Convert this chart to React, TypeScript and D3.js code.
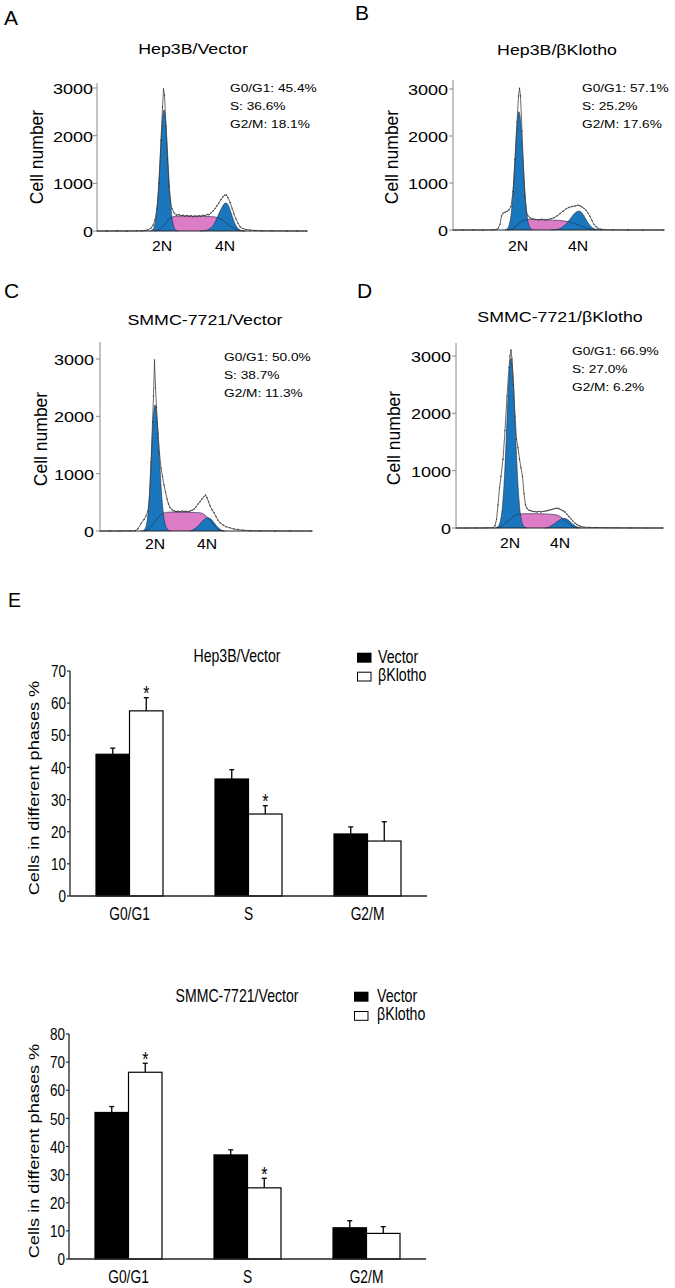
import React from "react";
import * as d3 from "d3";

const FONT = "'Liberation Sans', Arial, Helvetica, sans-serif";
type P = [number, number];

// ---------------- Histogram data: [channel, cell count] ----------------
const histA_outline: P[] = [[0,0],[10,0],[20,2],[30,0],[40,3],[45,5],[48,10],[51,25],[54,60],[56,120],[58,230],[60,480],[62,1000],[64,1900],[65.5,2600],[66.5,2980],[67.5,2850],[69,2200],[70.5,1500],[72,950],[73.5,620],[75,470],[77,380],[79.5,335],[82,345],[84,320],[86,330],[88,310],[90,325],[92,305],[94,320],[96,300],[98,315],[100,305],[102,320],[104,310],[106,330],[108,320],[110,345],[112,340],[114,380],[116,420],[118,470],[120,530],[122,590],[124,660],[126,720],[128,755],[129.5,750],[131,700],[133,600],[135,480],[137,360],[139,250],[141,160],[143,90],[146,50],[149,30],[153,20],[158,12],[165,6],[175,3],[190,1],[200,0],[210,0]];
const histA_g1: P[] = [[53,0],[55,17],[57,80],[59,280],[61,730],[63,1460],[65,2210],[67,2540],[69,2210],[71,1460],[73,730],[75,280],[77,80],[79,17],[81,0]];
const histA_s: P[] = [[58,0],[61,20],[64,60],[67,120],[70,200],[73,265],[76,300],[80,315],[90,315],[100,310],[110,305],[116,300],[120,285],[123,260],[126,220],[129,175],[132,125],[135,80],[138,45],[141,20],[144,6],[147,0]];
const histA_g2: P[] = [[103,0],[105,2],[109,12],[111,25],[113,50],[115,88],[117,145],[119,225],[121,320],[123,415],[125,500],[127,565],[129,587],[131,550],[133,450],[135,325],[137,205],[139,110],[141,53],[143,22],[145,8],[148,0]];

const histB_outline: P[] = [[0,0],[10,0],[20,1],[30,0],[40,2],[43,8],[45,30],[47,120],[48.5,300],[50,360],[52,380],[54,400],[56,430],[58,500],[60,820],[62,1500],[64,2300],[65.5,2850],[66.5,3015],[67.5,2850],[69,2100],[70.5,1300],[72,700],[73.5,380],[75,300],[77,260],[80,235],[83,225],[86,215],[89,228],[92,215],[95,225],[98,240],[101,260],[104,300],[107,350],[110,400],[113,450],[116,480],[119,500],[122,510],[125,530],[127,515],[129,490],[131,460],[133,420],[135,360],[137,290],[139,200],[141,120],[143,70],[145,35],[148,15],[152,8],[160,3],[175,1],[190,0],[211,0]];
const histB_g1: P[] = [[52,0],[54,22],[56,95],[58,310],[60,770],[62,1490],[64,2210],[66,2517],[68,2210],[70,1490],[72,770],[74,310],[76,95],[78,22],[80,0]];
const histB_s: P[] = [[55,0],[58,15],[61,50],[64,100],[67,150],[70,195],[73,220],[77,228],[85,222],[95,215],[105,205],[112,190],[116,175],[120,150],[124,120],[128,85],[132,50],[136,22],[140,5],[143,0]];
const histB_g2: P[] = [[98,0],[101,5],[105,19],[108,43],[111,85],[114,149],[117,231],[120,316],[123,380],[126,404],[129,363],[132,263],[135,155],[138,73],[141,28],[144,9],[147,2],[150,0]];

const histC_outline: P[] = [[0,0],[10,0],[20,1],[30,2],[35,5],[38,40],[41,130],[44,200],[46,260],[48,350],[49.5,600],[51,1200],[52.5,1900],[53.5,2350],[54.5,2983],[55.5,2500],[56.5,2150],[58,1700],[59.5,1350],[61,1100],[62.5,950],[64,800],[65.5,680],[67,560],[68.5,470],[70,410],[72,370],[74,350],[76,340],[78,345],[80,335],[82,350],[84,340],[86,345],[88,335],[90,350],[92,360],[94,380],[96,420],[98,470],[100,510],[102,560],[104,600],[105.5,628],[107,580],[108.5,510],[110,440],[112,370],[114,320],[116,250],[118,190],[120,145],[123,105],[126,75],[130,55],[134,35],[138,25],[143,15],[150,5],[160,2],[175,1],[190,0],[212,0]];
const histC_g1: P[] = [[41,0],[43,6],[45,36],[46,80],[47,160],[48,300],[49,505],[50,795],[51,1150],[52,1530],[53,1885],[54,2115],[55,2200],[56,2140],[57,1960],[58,1700],[59,1400],[60,1090],[61,795],[62,550],[63,360],[64,220],[65,130],[67,35],[69,8],[71,0]];
const histC_s: P[] = [[44,0],[47,20],[50,60],[53,120],[56,190],[59,250],[62,295],[65,320],[70,330],[80,330],[90,325],[100,318],[103,300],[106,260],[109,205],[112,145],[115,90],[118,40],[121,10],[124,0]];
const histC_g2: P[] = [[90,0],[93,20],[96,55],[99,105],[102,165],[105,215],[107.7,233],[110,220],[112,190],[114,145],[116,100],[118,60],[120,30],[122,10],[125,0]];

const histD_outline: P[] = [[0,0],[10,0],[20,1],[30,2],[37,5],[39,40],[40.5,150],[42,400],[43.5,700],[45,900],[47,1200],[49,1700],[51,2300],[53,2800],[54,3000],[55,3105],[56,2950],[57.5,2500],[59,1950],[60.5,1550],[62,1400],[63.5,1200],[65,1050],[66.5,900],[68,600],[69.5,400],[71,340],[73,310],[75,300],[77,290],[79,285],[81,280],[83,290],[85,280],[87,290],[89,295],[91,300],[93,310],[95,320],[97,330],[99,340],[101,345],[103,335],[105,320],[107,300],[109,280],[111,240],[113,200],[115,160],[117,120],[119,85],[121,60],[123,40],[125,25],[128,15],[133,10],[140,8],[150,6],[160,4],[175,2],[190,1],[207,0]];
const histD_g1: P[] = [[39,0],[41,12],[43,50],[45,175],[46,300],[47,490],[48,740],[49,1070],[50,1460],[51,1880],[52,2290],[53,2640],[54,2880],[55,2960],[56,2880],[57,2640],[58,2290],[59,1880],[60,1460],[61,1070],[62,740],[63,490],[64,300],[65,175],[67,50],[69,12],[71,0]];
const histD_s: P[] = [[40,0],[43,15],[46,40],[49,80],[52,125],[55,170],[58,210],[61,235],[64,245],[70,250],[80,250],[90,245],[98,235],[102,220],[105,190],[108,150],[111,105],[114,60],[117,25],[120,5],[122,0]];
const histD_g2: P[] = [[89,0],[92,10],[95,35],[98,70],[101,110],[104,145],[107,169],[110,160],[113,125],[116,80],[119,40],[122,12],[125,0]];

const histTicks = [0, 1000, 2000, 3000];
const statsA = ["G0/G1: 45.4%", "S: 36.6%", "G2/M: 18.1%"];
const statsB = ["G0/G1: 57.1%", "S: 25.2%", "G2/M: 17.6%"];
const statsC = ["G0/G1: 50.0%", "S: 38.7%", "G2/M: 11.3%"];
const statsD = ["G0/G1: 66.9%", "S: 27.0%", "G2/M: 6.2%"];

// ---------------- Bar chart data ----------------
const phases = ["G0/G1", "S", "G2/M"];
const groups = ["Vector", "βKlotho"];
const hep3bVector = [44.1, 36.4, 19.3];
const hep3bVectorSd = [1.9, 2.9, 2.2];
const hep3bKlotho = [57.6, 25.5, 17.1];
const hep3bKlothoSd = [4.1, 2.6, 6.0];
const hep3bSig = [true, true, false];
const smmcVector = [52.1, 37.0, 11.1];
const smmcVectorSd = [2.1, 1.8, 2.5];
const smmcKlotho = [66.4, 25.3, 9.1];
const smmcKlothoSd = [3.2, 3.4, 2.4];
const smmcSig = [true, true, false];

// ---------------- layout ----------------
const histPanels = [
  { letter: "A", title: "Hep3B/Vector", stats: statsA, outline: histA_outline, g1: histA_g1, s: histA_s, g2: histA_g2,
    L: { x0: 97, x1: 307, xMax: 210, y0: 231, y3000: 88, yTop: 83, titleX: 193, titleY: 54, statsX: 230, statsY: 91.5, labelX: 43, labelY: 157, tickRight: 93, nY: 251, n2: 65, n4: 128, letterX: 4, letterY: 25 } },
  { letter: "B", title: "Hep3B/βKlotho", stats: statsB, outline: histB_outline, g1: histB_g1, s: histB_s, g2: histB_g2,
    L: { x0: 453, x1: 664, xMax: 211, y0: 230, y3000: 89, yTop: 80, titleX: 557, titleY: 55, statsX: 582, statsY: 92, labelX: 398, labelY: 157, tickRight: 448, nY: 251, n2: 65, n4: 125, letterX: 355, letterY: 20 } },
  { letter: "C", title: "SMMC-7721/Vector", stats: statsC, outline: histC_outline, g1: histC_g1, s: histC_s, g2: histC_g2,
    L: { x0: 100, x1: 312, xMax: 212, y0: 531, y3000: 359, yTop: 342, titleX: 205, titleY: 325, statsX: 224, statsY: 360.5, labelX: 47, labelY: 439, tickRight: 94, nY: 549, n2: 55, n4: 107, letterX: 4, letterY: 298 } },
  { letter: "D", title: "SMMC-7721/βKlotho", stats: statsD, outline: histD_outline, g1: histD_g1, s: histD_s, g2: histD_g2,
    L: { x0: 456, x1: 663, xMax: 207, y0: 528, y3000: 356, yTop: 343, titleX: 560, titleY: 322, statsX: 572, statsY: 355, labelX: 400, labelY: 438, tickRight: 451, nY: 548, n2: 54, n4: 104, letterX: 357, letterY: 298 } },
];

const BLUE = "#1b77bd";
const PINK = "#dc7cc6";
const HSX = 1.17; // horizontal stretch of histogram text
const BSY = 1.27; // vertical stretch of bar chart text

function T({ x, y, size, sx = 1, sy = 1, rot = 0, anchor = "start", children, fill = "#000" }: any) {
  return (
    <text
      transform={`translate(${x},${y}) scale(${sx},${sy})${rot ? ` rotate(${rot})` : ""}`}
      fontSize={size}
      fontWeight="normal"
      textAnchor={anchor}
      fontFamily={FONT}
      fill={fill}
    >
      {children}
    </text>
  );
}

function Histogram({ panel }: any) {
  const { L } = panel;
  const x = d3.scaleLinear().domain([0, L.xMax]).range([L.x0, L.x1]);
  const y = d3.scaleLinear().domain([0, 3000]).range([L.y0, L.y3000]);
  const area = d3.area<P>().x((d) => x(d[0])).y0(L.y0).y1((d) => y(d[1])).curve(d3.curveMonotoneX);
  const smooth = d3.line<P>().x((d) => x(d[0])).y((d) => y(d[1])).curve(d3.curveMonotoneX);
  const jag = d3.line<P>().x((d) => x(d[0])).y((d) => y(d[1])).curve(d3.curveLinear);
  return (
    <g>
      <T x={L.letterX} y={L.letterY} size={21}>{panel.letter}</T>
      <T x={L.titleX} y={L.titleY} size={15.2} sx={HSX} anchor="middle">{panel.title}</T>
      {panel.stats.map((s: string, i: number) => (
        <T key={i} x={L.statsX} y={L.statsY + i * 18} size={11.7} sx={HSX}>{s}</T>
      ))}
      <path d={area(panel.s) || ""} fill={PINK} />
      <path d={area(panel.g1) || ""} fill={BLUE} />
      <path d={area(panel.g2) || ""} fill={BLUE} />
      <path d={smooth(panel.s) || ""} fill="none" stroke="#1d2a44" strokeWidth={0.6} />
      <path d={smooth(panel.g1) || ""} fill="none" stroke="#1d2a44" strokeWidth={0.6} />
      <path d={smooth(panel.g2) || ""} fill="none" stroke="#1d2a44" strokeWidth={0.6} />
      <path d={jag(panel.outline) || ""} fill="none" stroke="#444" strokeWidth={0.8} />
      {panel.outline.map((d: P, i: number) => (
        <circle key={i} cx={x(d[0])} cy={y(d[1])} r={0.7} fill="#333" />
      ))}
      {/* axes */}
      <line x1={L.x0} x2={L.x1} y1={L.y0} y2={L.y0} stroke="#222" strokeWidth={1} />
      <line x1={L.x0} x2={L.x0} y1={L.y0} y2={L.yTop} stroke="#888" strokeWidth={1} />
      {histTicks.map((t) => (
        <g key={t}>
          <line x1={L.x0 - 4} x2={L.x0} y1={y(t)} y2={y(t)} stroke="#888" strokeWidth={1} />
          <T x={L.tickRight} y={y(t) + 6} size={15.4} sx={HSX} anchor="end">{String(t)}</T>
        </g>
      ))}
      <T x={L.labelX} y={L.labelY} size={17.5} rot={-90} anchor="middle">Cell number</T>
      <T x={x(L.n2)} y={L.nY} size={15} sx={1.05} anchor="middle">2N</T>
      <T x={x(L.n4)} y={L.nY} size={15} sx={1.05} anchor="middle">4N</T>
    </g>
  );
}

const barCharts = [
  { title: "Hep3B/Vector", vec: hep3bVector, vecSd: hep3bVectorSd, klo: hep3bKlotho, kloSd: hep3bKlothoSd, sig: hep3bSig, yMax: 70,
    L: { x0: 70, x1: 427, y0: 896, yTop: 671, titleX: 237, titleY: 662, legX: 357, legY1: 652.7, legY2: 671.7, legTextX: 378, legBase1: 662.5, legBase2: 681, yLabelX: 39, yLabelY: 788, xLabelY: 919.5 } },
  { title: "SMMC-7721/Vector", vec: smmcVector, vecSd: smmcVectorSd, klo: smmcKlotho, kloSd: smmcKlothoSd, sig: smmcSig, yMax: 80,
    L: { x0: 69, x1: 426, y0: 1259, yTop: 1034, titleX: 237, titleY: 1001.5, legX: 354, legY1: 991.7, legY2: 1011, legTextX: 377, legBase1: 1001.5, legBase2: 1020, yLabelX: 39, yLabelY: 1151, xLabelY: 1282.5 } },
];

function BarChart({ chart }: any) {
  const { L } = chart;
  const x0 = d3.scaleBand<string>().domain(phases).range([L.x0, L.x1]);
  const x1 = d3.scaleBand<string>().domain(groups).range([0, x0.bandwidth()]).paddingInner(0).paddingOuter(0.776);
  const y = d3.scaleLinear().domain([0, chart.yMax]).range([L.y0, L.yTop]);
  const ticks = d3.range(0, chart.yMax + 1, 10);
  const series = [
    { key: "Vector", vals: chart.vec, sd: chart.vecSd, fill: "#000" },
    { key: "βKlotho", vals: chart.klo, sd: chart.kloSd, fill: "#fff" },
  ];
  const bw = x1.bandwidth();
  return (
    <g>
      <T x={L.titleX} y={L.titleY} size={14.1} sy={BSY} anchor="middle">{chart.title}</T>
      <rect x={L.legX} y={L.legY1} width={14.5} height={10} fill="#000" />
      <rect x={L.legX + 0.5} y={L.legY2 + 0.5} width={13.5} height={8.8} fill="#fff" stroke="#000" strokeWidth={1} />
      <T x={L.legTextX} y={L.legBase1} size={14.2} sy={BSY}>Vector</T>
      <T x={L.legTextX} y={L.legBase2} size={14.2} sy={BSY}>βKlotho</T>
      {series.map((s) =>
        phases.map((p, i) => {
          const bx = (x0(p) as number) + (x1(s.key) as number);
          const cx = bx + bw / 2;
          const top = y(s.vals[i]);
          const et = y(s.vals[i] + s.sd[i]);
          return (
            <g key={s.key + p}>
              <line x1={cx} x2={cx} y1={top} y2={et} stroke="#000" strokeWidth={1.3} />
              <line x1={cx - 2.5} x2={cx + 2.5} y1={et} y2={et} stroke="#000" strokeWidth={1.3} />
              <rect x={bx} y={top} width={bw} height={L.y0 - top} fill={s.fill} stroke="#000" strokeWidth={1.2} />
              {s.key === "βKlotho" && chart.sig[i] ? (
                <T x={cx} y={et + 2.5} size={16} sy={BSY} anchor="middle">*</T>
              ) : null}
            </g>
          );
        })
      )}
      <line x1={L.x0} x2={L.x0} y1={L.y0} y2={L.yTop} stroke="#222" strokeWidth={1.3} />
      <line x1={L.x0} x2={L.x1} y1={L.y0} y2={L.y0} stroke="#222" strokeWidth={1.3} />
      {ticks.map((t) => (
        <g key={t}>
          <line x1={L.x0 - 3} x2={L.x0} y1={y(t)} y2={y(t)} stroke="#222" strokeWidth={1.2} />
          <T x={L.x0 - 4} y={y(t) + 6.2} size={13.5} sy={BSY} anchor="end">{String(t)}</T>
        </g>
      ))}
      {phases.map((p) => (
        <T key={p} x={(x0(p) as number) + x0.bandwidth() / 2} y={L.xLabelY} size={13.8} sy={BSY} anchor="middle">{p}</T>
      ))}
      <T x={L.yLabelX} y={L.yLabelY} size={14.3} sy={BSY} rot={-90} anchor="middle">Cells in different phases %</T>
    </g>
  );
}

export default function App() {
  return (
    <div style={{ position: "absolute", left: 0, top: 0, background: "#fff" }}>
      <svg width={675} height={1288} viewBox="0 0 675 1288" style={{ display: "block", background: "#fff" }}>
        {histPanels.map((p) => (
          <Histogram key={p.letter} panel={p} />
        ))}
        <T x={8} y={607} size={19.5}>E</T>
        {barCharts.map((c) => (
          <BarChart key={c.title} chart={c} />
        ))}
      </svg>
    </div>
  );
}
